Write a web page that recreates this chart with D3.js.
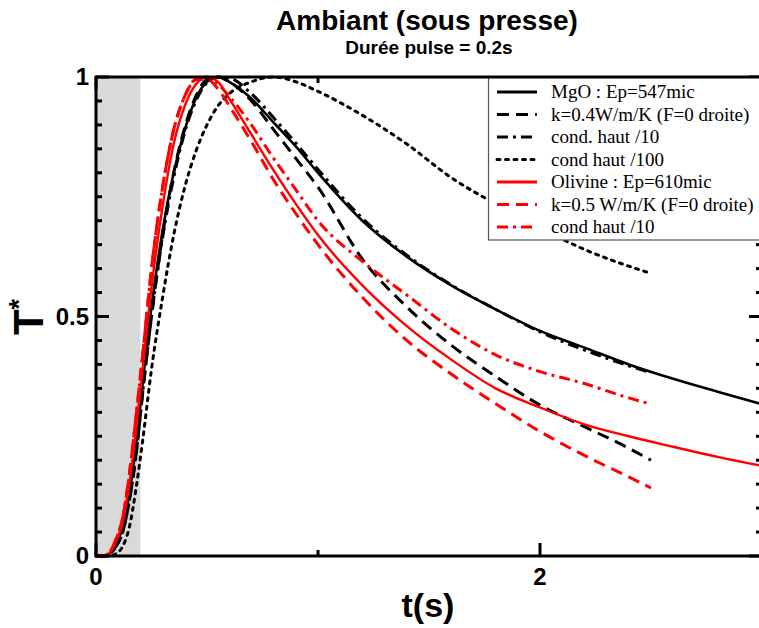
<!DOCTYPE html>
<html>
<head>
<meta charset="utf-8">
<script src="https://cdn.jsdelivr.net/npm/d3@7"></script>
<style>
  body { margin: 0; background: #fff; }
  text { font-family: "Liberation Sans", Arial, sans-serif; }
</style>
</head>
<body>
<svg id="chart" width="759" height="628"></svg>
<script>
// time grids (s)
const tLong = [0,0.03,0.06,0.09,0.12,0.15,0.18,0.21,0.25,0.3,0.35,0.4,0.45,0.5,0.55,0.6,0.7,0.8,0.9,1.0,1.2,1.4,1.6,1.8,2.0,2.2,2.4,2.6,2.8,3.0];
const tSim  = [0,0.03,0.06,0.09,0.12,0.15,0.18,0.21,0.25,0.3,0.35,0.4,0.45,0.5,0.55,0.6,0.7,0.8,0.9,1.0,1.2,1.4,1.6,1.8,2.0,2.2,2.4,2.5];

// normalised temperature T*
const mgoExp    = [0,0,0.005,0.025,0.06,0.13,0.23,0.36,0.52,0.68,0.8,0.89,0.955,0.99,1.0,0.99,0.955,0.905,0.855,0.8,0.7,0.625,0.565,0.515,0.47,0.435,0.4,0.37,0.343,0.317];
const mgoK04    = [0,0,0.004,0.02,0.05,0.115,0.21,0.34,0.5,0.67,0.8,0.895,0.96,0.995,1.0,0.99,0.95,0.89,0.83,0.77,0.62,0.52,0.44,0.375,0.315,0.27,0.225,0.2];
const mgoCond10 = [0,0,0.004,0.02,0.05,0.115,0.21,0.34,0.5,0.665,0.79,0.885,0.95,0.988,1.0,0.998,0.965,0.915,0.862,0.807,0.705,0.628,0.566,0.515,0.468,0.43,0.397,0.383];
const mgoCond100= [0,0,0,0.005,0.02,0.06,0.14,0.24,0.39,0.54,0.67,0.77,0.845,0.9,0.94,0.965,0.99,1.0,0.99,0.97,0.92,0.86,0.79,0.735,0.685,0.64,0.605,0.59];
const olvExp    = [0,0,0.006,0.03,0.07,0.15,0.26,0.39,0.56,0.73,0.86,0.94,0.985,1.0,0.99,0.955,0.88,0.805,0.735,0.67,0.565,0.48,0.41,0.35,0.31,0.275,0.25,0.228,0.207,0.188];
const olvK05    = [0,0,0.008,0.035,0.08,0.17,0.29,0.42,0.6,0.77,0.89,0.96,0.995,0.995,0.975,0.94,0.865,0.785,0.715,0.65,0.54,0.45,0.38,0.318,0.26,0.21,0.165,0.142];
const olvCond10 = [0,0,0.008,0.035,0.08,0.17,0.29,0.42,0.6,0.77,0.89,0.96,0.995,1.0,0.985,0.96,0.9,0.83,0.765,0.7,0.615,0.545,0.475,0.42,0.385,0.36,0.33,0.317];

const legendLabels = ["MgO : Ep=547mic","k=0.4W/m/K (F=0 droite)","cond. haut /10","cond haut /100",
                      "Olivine : Ep=610mic","k=0.5 W/m/K (F=0 droite)","cond haut /10"];
const pulse = 0.2;

const dash = {solid:null, dashed:"12,7", dashdot:"11,5,3,5", dotted:"3,5.5"};
const series = [
  {t:tLong, v:mgoExp,     color:"#000", style:"solid",   w:2.6},
  {t:tSim,  v:mgoK04,     color:"#000", style:"dashed",  w:3},
  {t:tSim,  v:mgoCond10,  color:"#000", style:"dashdot", w:3},
  {t:tSim,  v:mgoCond100, color:"#000", style:"dotted",  w:3},
  {t:tLong, v:olvExp,     color:"#f00", style:"solid",   w:2.4},
  {t:tSim,  v:olvK05,     color:"#f00", style:"dashed",  w:3},
  {t:tSim,  v:olvCond10,  color:"#f00", style:"dashdot", w:3}
];

const svg = d3.select("#chart");
const x = d3.scaleLinear().domain([0, 3]).range([96, 762]);
const y = d3.scaleLinear().domain([0, 1]).range([556, 77]);

// pulse shading
svg.append("rect")
  .attr("x", x(0)).attr("y", y(1))
  .attr("width", x(pulse) - x(0)).attr("height", y(0) - y(1))
  .attr("fill", "#d9d9d9");

const plot = svg.append("g");
const line = d3.line().x(d => x(d[0])).y(d => y(d[1])).curve(d3.curveMonotoneX);
series.forEach(s => {
  plot.append("path")
    .attr("d", line(s.t.map((t, i) => [t, s.v[i]])))
    .attr("fill", "none")
    .attr("stroke", s.color)
    .attr("stroke-width", s.w)
    .attr("stroke-linecap", s.style === "dotted" ? "round" : "butt")
    .attr("stroke-dasharray", dash[s.style]);
});

// ticks: major + minor, drawn inward on all four sides
const yMinor = d3.range(0, 1.0001, 0.05);
const ax = svg.append("g").attr("stroke", "#000").attr("stroke-width", 3);
yMinor.forEach(v => {
  const major = Math.abs(v * 2 - Math.round(v * 2)) < 1e-6;
  const len = major ? 13 : 6;
  ax.append("line").attr("x1", x(0)).attr("x2", x(0) + len).attr("y1", y(v)).attr("y2", y(v));
  ax.append("line").attr("x1", x(3)).attr("x2", x(3) - len).attr("y1", y(v)).attr("y2", y(v));
});
[0, 1, 2, 3].forEach(v => {
  const len = v % 2 === 0 ? 13 : 6;
  ax.append("line").attr("x1", x(v)).attr("x2", x(v)).attr("y1", y(0)).attr("y2", y(0) - len);
  ax.append("line").attr("x1", x(v)).attr("x2", x(v)).attr("y1", y(1)).attr("y2", y(1) + len);
});

// legend
const lg = svg.append("g");
lg.append("rect")
  .attr("x", 488.5).attr("y", 77).attr("width", 280).attr("height", 163)
  .attr("fill", "#fff").attr("stroke", "#555").attr("stroke-width", 1.2);
series.forEach((s, i) => {
  const ly = 92 + i * 22.5;
  lg.append("line")
    .attr("x1", 497).attr("x2", 537).attr("y1", ly).attr("y2", ly)
    .attr("stroke", s.color).attr("stroke-width", 3)
    .attr("stroke-linecap", s.style === "dotted" ? "round" : "butt")
    .attr("stroke-dasharray", dash[s.style]);
  lg.append("text")
    .attr("x", 551).attr("y", ly + 6)
    .style("font-family", "'Liberation Serif', 'Times New Roman', serif")
    .attr("font-size", 19)
    .text(legendLabels[i]);
});

// frame
svg.append("rect")
  .attr("x", x(0)).attr("y", y(1)).attr("width", x(3) - x(0)).attr("height", y(0) - y(1))
  .attr("fill", "none").attr("stroke", "#000").attr("stroke-width", 3);

// tick labels
const lab = svg.append("g").attr("font-weight", "bold").attr("fill", "#000");
[0, 2].forEach(v => {
  lab.append("text").attr("x", x(v)).attr("y", 585).attr("text-anchor", "middle")
    .attr("font-size", 24).text(v);
});
[[0, "0"], [0.5, "0.5"], [1, "1"]].forEach(([v, s]) => {
  lab.append("text").attr("x", 89).attr("y", y(v) + 8).attr("text-anchor", "end")
    .attr("font-size", 24).text(s);
});

// axis titles
svg.append("text").attr("x", 428).attr("y", 617).attr("text-anchor", "middle")
  .attr("font-weight", "bold").attr("font-size", 34).text("t(s)");
const yt = svg.append("text")
  .attr("transform", "translate(43,317) rotate(-90)")
  .attr("text-anchor", "middle").attr("font-weight", "bold").attr("font-size", 42);
yt.append("tspan").text("T");
yt.append("tspan").attr("font-size", 27).attr("dy", -15).text("*");

// titles
svg.append("text").attr("x", 427).attr("y", 30).attr("text-anchor", "middle")
  .attr("font-weight", "bold").attr("font-size", 28).text("Ambiant (sous presse)");
svg.append("text").attr("x", 429).attr("y", 54).attr("text-anchor", "middle")
  .attr("font-weight", "bold").attr("font-size", 19).text("Durée pulse = 0.2s");
</script>
</body>
</html>
